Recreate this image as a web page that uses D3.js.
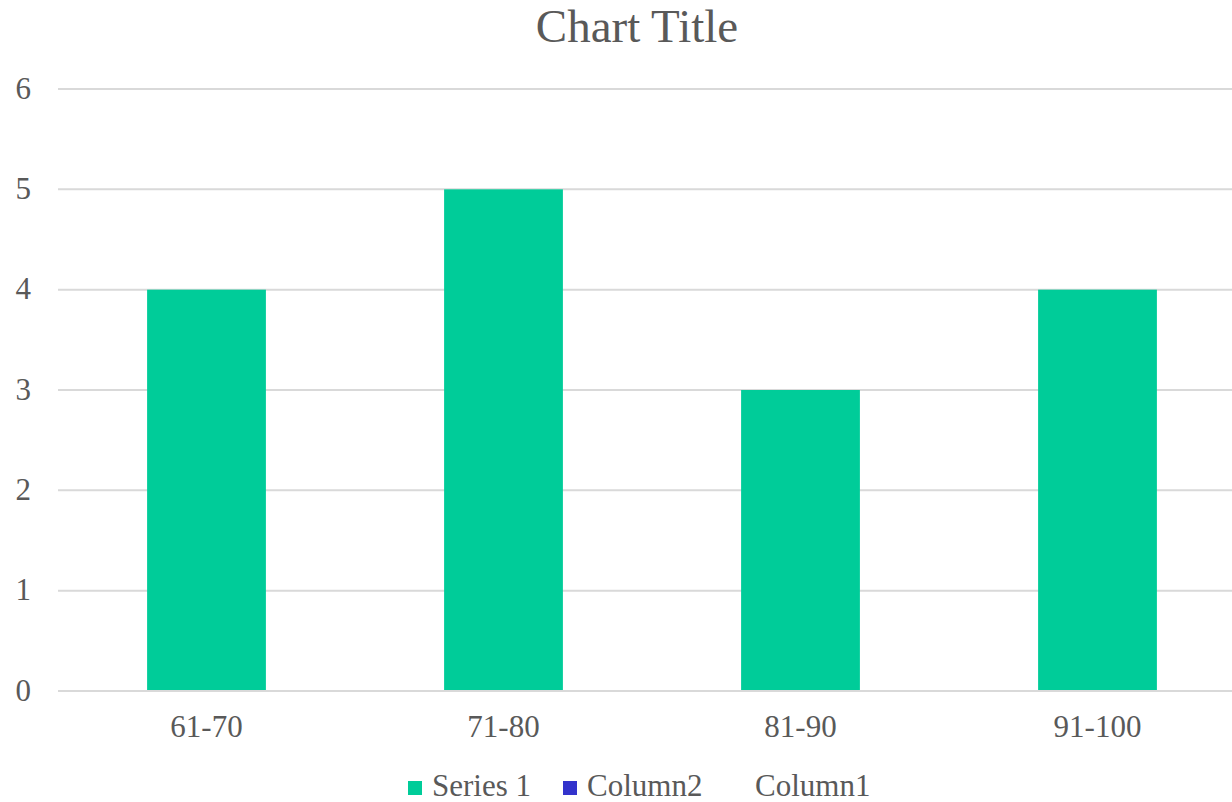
<!DOCTYPE html>
<html>
<head>
<meta charset="utf-8">
<script src="https://cdn.jsdelivr.net/npm/d3@7"></script>
<style>
  html, body { margin: 0; padding: 0; background: #fff; }
  svg { display: block; }
</style>
</head>
<body>
<svg id="chart" width="1232" height="802"></svg>
<script>
// Score bands and counts
const categories = ["61-70", "71-80", "81-90", "91-100"];
const series1 = [4, 5, 3, 4];
const yTicks = [0, 1, 2, 3, 4, 5, 6];
const legendItems = ["Series 1", "Column2", "Column1"];
const legendColors = ["#00CC99", "#3333CC", "none"];

const FONT = "'Liberation Serif', 'Times New Roman', serif";
const TEXT_COLOR = "#595959";

const svg = d3.select("#chart");
const plot = { left: 58, right: 1246, top: 89, bottom: 691 };

const x = d3.scaleBand().domain(categories).range([plot.left, plot.right]).paddingInner(0.6).paddingOuter(0.3);
const y = d3.scaleLinear().domain([0, 6]).range([plot.bottom, plot.top]);

// Title
svg.append("text")
  .attr("x", 637).attr("y", 42)
  .attr("text-anchor", "middle")
  .attr("font-family", FONT)
  .attr("font-size", 47)
  .attr("fill", TEXT_COLOR)
  .text("Chart Title");

// Horizontal gridlines
svg.append("g").selectAll("line").data(yTicks).join("line")
  .attr("x1", plot.left).attr("x2", plot.right)
  .attr("y1", d => y(d)).attr("y2", d => y(d))
  .attr("stroke", "#d9d9d9").attr("stroke-width", 2);

// Y axis labels
const yAxis = svg.append("g").attr("transform", `translate(${plot.left - 27},0)`)
  .call(d3.axisLeft(y).tickValues(yTicks).tickSize(0).tickPadding(0).tickFormat(d3.format("d")));
yAxis.select(".domain").remove();
yAxis.attr("font-family", FONT).attr("font-size", 31);
yAxis.selectAll("text").attr("fill", TEXT_COLOR).attr("dy", 9);

// Bars
svg.append("g").selectAll("rect").data(series1).join("rect")
  .attr("x", (d, i) => x(categories[i]))
  .attr("width", x.bandwidth())
  .attr("y", d => y(d))
  .attr("height", d => y(0) - y(d))
  .attr("fill", legendColors[0]);

// Baseline drawn over the bars
svg.append("line")
  .attr("x1", plot.left).attr("x2", plot.right)
  .attr("y1", y(0)).attr("y2", y(0))
  .attr("stroke", "#d9d9d9").attr("stroke-width", 2);

// X axis labels
const xAxis = svg.append("g").attr("transform", `translate(0,${plot.bottom})`)
  .call(d3.axisBottom(x).tickSize(0).tickPadding(0));
xAxis.select(".domain").remove();
xAxis.attr("font-family", FONT).attr("font-size", 31);
xAxis.selectAll("text").attr("fill", TEXT_COLOR).attr("y", 46).attr("dy", 0);

// Legend
const legendX = [408, 563, 731];
const legend = svg.append("g");
legendItems.forEach((name, i) => {
  const g = legend.append("g").attr("transform", `translate(${legendX[i]},0)`);
  g.append("rect").attr("x", 0).attr("y", 781).attr("width", 14).attr("height", 14)
    .attr("fill", legendColors[i]);
  g.append("text").attr("x", 24).attr("y", 796)
    .attr("font-family", FONT).attr("font-size", 31)
    .attr("fill", TEXT_COLOR)
    .text(name);
});
</script>
</body>
</html>
